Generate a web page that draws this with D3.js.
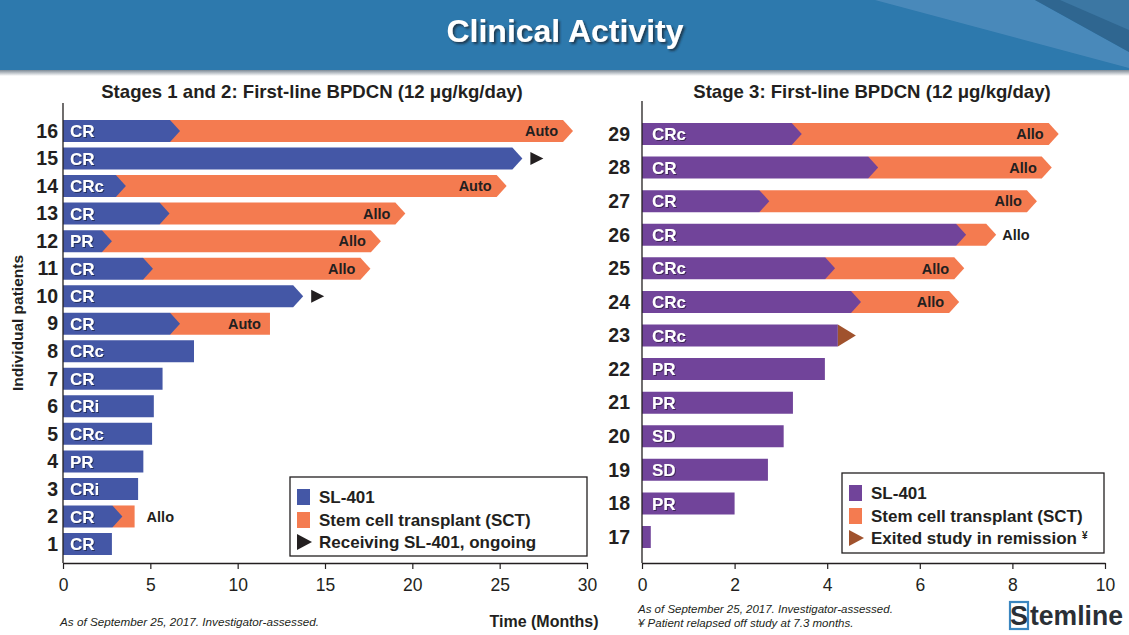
<!DOCTYPE html>
<html>
<head>
<meta charset="utf-8">
<script src="https://cdn.jsdelivr.net/npm/d3@7/dist/d3.min.js"></script>
<style>
  html, body { margin: 0; padding: 0; background: #fff; }
  svg { display: block; font-family: "Liberation Sans", Arial, Helvetica, sans-serif; }
</style>
</head>
<body>
<svg id="chart" width="1129" height="635"></svg>
<script>
// ---------------- DATA ----------------
const title = "Clinical Activity";
const leftTitle = "Stages 1 and 2: First-line BPDCN (12 \u03BCg/kg/day)";
const rightTitle = "Stage 3: First-line BPDCN (12 \u03BCg/kg/day)";

// Stages 1 and 2 (top to bottom)
const leftPatients = [16, 15, 14, 13, 12, 11, 10, 9, 8, 7, 6, 5, 4, 3, 2, 1];
const leftResponse = ["CR", "CR", "CRc", "CR", "PR", "CR", "CR", "CR", "CRc", "CR", "CRi", "CRc", "PR", "CRi", "CR", "CR"];
const leftSL401 = [6.7, 26.3, 3.6, 6.1, 2.8, 5.15, 13.75, 6.7, 7.5, 5.7, 5.2, 5.1, 4.6, 4.3, 3.4, 2.8];
const leftSCTEnd = [29.2, null, 25.4, 19.6, 18.2, 17.6, null, 11.85, null, null, null, null, null, null, 4.1, null];
const leftSCTType = ["Auto", null, "Auto", "Allo", "Allo", "Allo", null, "Auto", null, null, null, null, null, null, "Allo", null];
const leftSCTPointed = [true, false, true, true, true, true, false, false, false, false, false, false, false, false, false, false];
const leftOngoing = [false, true, false, false, false, false, true, false, false, false, false, false, false, false, false, false];
const leftTicks = [0, 5, 10, 15, 20, 25, 30];

// Stage 3 (top to bottom)
const rightPatients = [29, 28, 27, 26, 25, 24, 23, 22, 21, 20, 19, 18, 17];
const rightResponse = ["CRc", "CR", "CR", "CR", "CRc", "CRc", "CRc", "PR", "PR", "SD", "SD", "PR", ""];
const rightSL401 = [3.45, 5.1, 2.75, 7.0, 4.17, 4.73, 4.23, 3.95, 3.26, 3.06, 2.72, 2.0, 0.19];
const rightSCTEnd = [9.0, 8.85, 8.53, 7.65, 6.96, 6.85, null, null, null, null, null, null, null];
const rightSCTType = ["Allo", "Allo", "Allo", "Allo", "Allo", "Allo", null, null, null, null, null, null, null];
const rightSCTPointed = [true, true, true, true, true, true, false, false, false, false, false, false, false];
const rightExited = [false, false, false, false, false, false, true, false, false, false, false, false, false];
const rightTicks = [0, 2, 4, 6, 8, 10];

const leftLegend = ["SL-401", "Stem cell transplant (SCT)", "Receiving SL-401, ongoing"];
const rightLegend = ["SL-401", "Stem cell transplant (SCT)", "Exited study in remission"];
const leftNote = "As of September 25, 2017. Investigator-assessed.";
const rightNotes = ["As of September 25, 2017. Investigator-assessed.", "\u00A5 Patient relapsed off study at 7.3 months."];
const xTitle = "Time (Months)";
const yTitle = "Individual patients";

// ---------------- STYLE ----------------
const C = {
  header: "#2D79AD",
  blue: "#4457A6",
  orange: "#F47B50",
  purple: "#71449A",
  brown: "#A0522D",
  text: "#231F20",
  axis: "#231F20"
};
const BAR_H = 22, POINT = 10;

const svg = d3.select("#chart");

// defs
const defs = svg.append("defs");
const sg = defs.append("linearGradient").attr("id", "shadow").attr("x1", 0).attr("x2", 0).attr("y1", 0).attr("y2", 1);
sg.append("stop").attr("offset", "0%").attr("stop-color", "#7d8a96");
sg.append("stop").attr("offset", "100%").attr("stop-color", "#ffffff");
const ts = defs.append("filter").attr("id", "tshadow").attr("x", "-10%").attr("y", "-20%").attr("width", "130%").attr("height", "150%");
ts.append("feDropShadow").attr("dx", 1).attr("dy", 1).attr("stdDeviation", 0.6).attr("flood-color", "#000").attr("flood-opacity", 0.45);
const ts2 = defs.append("filter").attr("id", "tshadow2").attr("x", "-10%").attr("y", "-20%").attr("width", "130%").attr("height", "160%");
ts2.append("feDropShadow").attr("dx", 2).attr("dy", 2).attr("stdDeviation", 0.8).attr("flood-color", "#1a2a3a").attr("flood-opacity", 0.8);

// ---------------- HEADER ----------------
svg.append("rect").attr("x", 0).attr("y", 70).attr("width", 1129).attr("height", 6).attr("fill", "url(#shadow)");
svg.append("rect").attr("x", 0).attr("y", 0).attr("width", 1129).attr("height", 70).attr("fill", C.header);
svg.append("polygon").attr("points", "875,0 1035,0 1129,52 1129,68").attr("fill", "#4f8cbc").attr("opacity", 0.85);
svg.append("polygon").attr("points", "1035,0 1129,0 1129,52").attr("fill", "#2f6690");
svg.append("polygon").attr("points", "1060,0 1129,0 1129,30").attr("fill", "#3c77a3");
svg.append("text").attr("x", 565).attr("y", 42).attr("text-anchor", "middle")
  .attr("font-size", 32).attr("font-weight", "bold").attr("fill", "#fff")
  .attr("filter", "url(#tshadow2)").text(title);

// ---------------- PANEL FUNCTION ----------------
function chevron(x0, x1, yc, pointed) {
  const t = yc - BAR_H / 2, b = yc + BAR_H / 2;
  if (pointed) {
    const xb = Math.max(x0, x1 - POINT);
    return `M${x0},${t}L${xb},${t}L${x1},${yc}L${xb},${b}L${x0},${b}Z`;
  }
  return `M${x0},${t}L${x1},${t}L${x1},${b}L${x0},${b}Z`;
}

function panel(cfg) {
  const g = svg.append("g");
  const x = d3.scaleLinear().domain(cfg.domain).range(cfg.xRange);
  const y = d3.scalePoint().domain(cfg.patients).range(cfg.yRange);

  // subtitle
  g.append("text").attr("x", cfg.titleX).attr("y", 98).attr("text-anchor", "middle")
    .attr("font-size", 18.6).attr("font-weight", "bold").attr("fill", C.text).text(cfg.title);

  // bars
  cfg.patients.forEach((p, i) => {
    const yc = y(p);
    const sEnd = cfg.sl401[i];
    const sctEnd = cfg.sctEnd[i];
    const followed = sctEnd != null || (cfg.ongoing && cfg.ongoing[i]);
    if (sctEnd != null) {
      const start = x(sEnd) - POINT;
      g.append("path").attr("d", chevron(start, x(sctEnd), yc, cfg.sctPointed[i])).attr("fill", C.orange);
    }
    g.append("path").attr("d", chevron(x(0), x(sEnd), yc, followed)).attr("fill", cfg.color);

    if (cfg.ongoing && cfg.ongoing[i]) {
      const tx = x(sEnd) + 8;
      g.append("path").attr("d", `M${tx},${yc - 6.5}L${tx + 13},${yc}L${tx},${yc + 6.5}Z`).attr("fill", "#231F20");
    }
    if (cfg.exited && cfg.exited[i]) {
      const tx = x(sEnd);
      g.append("path").attr("d", `M${tx},${yc - BAR_H / 2}L${tx + 18},${yc}L${tx},${yc + BAR_H / 2}Z`).attr("fill", C.brown);
    }
    if (cfg.response[i]) {
      g.append("text").attr("x", x(0) + cfg.labelPad).attr("y", yc).attr("dy", "0.36em")
        .attr("font-size", 17).attr("font-weight", "bold").attr("fill", "#fff")
        .attr("filter", "url(#tshadow)").text(cfg.response[i]);
    }
    if (cfg.sctType[i]) {
      const segW = x(sctEnd) - (x(sEnd) - POINT);
      const inside = segW > 45;
      const endX = x(sctEnd);
      const tx = inside ? endX - (cfg.sctPointed[i] ? 15 : 9) : endX + (cfg.sctPointed[i] ? 6 : 12);
      g.append("text").attr("x", tx).attr("y", yc).attr("dy", "0.36em")
        .attr("text-anchor", inside ? "end" : "start")
        .attr("font-size", 14.5).attr("font-weight", "bold").attr("fill", C.text).text(cfg.sctType[i]);
    }
  });

  // y axis (row numbers)
  const ya = g.append("g").attr("transform", `translate(${x(0)},0)`)
    .call(d3.axisLeft(y).tickSize(0).tickPadding(cfg.numPad));
  ya.select(".domain").remove();
  ya.selectAll("text").attr("font-size", 19.5).attr("font-weight", "bold").attr("fill", C.text)
    .attr("font-family", "Liberation Sans, Arial, sans-serif");
  g.append("line").attr("x1", x(0)).attr("x2", x(0)).attr("y1", cfg.axisTop).attr("y2", 563)
    .attr("stroke", C.axis).attr("stroke-width", 1.3);

  // x axis
  const xa = g.append("g").attr("transform", "translate(0,563)")
    .call(d3.axisBottom(x).tickValues(cfg.ticks).tickSize(6).tickSizeOuter(0).tickPadding(10));
  xa.select(".domain").attr("stroke", C.axis).attr("stroke-width", 1.3);
  xa.selectAll(".tick line").attr("stroke", C.axis).attr("stroke-width", 1.2);
  xa.selectAll("text").attr("font-size", 17.5).attr("fill", C.text)
    .attr("font-family", "Liberation Sans, Arial, sans-serif");

  // legend
  const L = cfg.legend;
  g.append("rect").attr("x", L.x).attr("y", L.y).attr("width", L.w).attr("height", L.h)
    .attr("fill", "#fff").attr("stroke", "#231F20").attr("stroke-width", 1.3);
  const rows = [L.y + 20, L.y + 43, L.y + 65];
  g.append("rect").attr("x", L.x + 7).attr("y", rows[0] - 8).attr("width", 13).attr("height", 16).attr("fill", cfg.color);
  g.append("rect").attr("x", L.x + 7).attr("y", rows[1] - 8).attr("width", 13).attr("height", 16).attr("fill", C.orange);
  g.append("path").attr("d", `M${L.x + 7},${rows[2] - 8}L${L.x + 22},${rows[2]}L${L.x + 7},${rows[2] + 8}Z`)
    .attr("fill", cfg.markerColor);
  cfg.legendText.forEach((t, i) => {
    const tx = g.append("text").attr("x", L.x + 29).attr("y", rows[i]).attr("dy", "0.36em")
      .attr("font-size", 17).attr("font-weight", "bold").attr("fill", C.text).text(t);
    if (i === 2 && cfg.exited) {
      tx.append("tspan").attr("font-size", 10).attr("dx", 5).attr("dy", "-0.5em").text("\u00A5");
    }
  });
  return { x, y };
}

panel({
  domain: [0, 30], xRange: [63, 587], yRange: [131, 544],
  patients: leftPatients, response: leftResponse, sl401: leftSL401, sctEnd: leftSCTEnd,
  sctType: leftSCTType, sctPointed: leftSCTPointed, ongoing: leftOngoing,
  color: C.blue, markerColor: "#231F20", ticks: leftTicks,
  title: leftTitle, titleX: 312, labelPad: 7, numPad: 5, axisTop: 103,
  legend: { x: 290, y: 477, w: 297, h: 79 }, legendText: leftLegend
});

panel({
  domain: [0, 10], xRange: [642, 1105], yRange: [134, 537],
  patients: rightPatients, response: rightResponse, sl401: rightSL401, sctEnd: rightSCTEnd,
  sctType: rightSCTType, sctPointed: rightSCTPointed, exited: rightExited,
  color: C.purple, markerColor: C.brown, ticks: rightTicks,
  title: rightTitle, titleX: 872, labelPad: 10, numPad: 12, axisTop: 101,
  legend: { x: 842, y: 473, w: 262, h: 80 }, legendText: rightLegend
});

// axis titles & notes
svg.append("text").attr("transform", "translate(23,323) rotate(-90)").attr("text-anchor", "middle")
  .attr("font-size", 15.5).attr("font-weight", "bold").attr("fill", C.text).text(yTitle);
svg.append("text").attr("x", 544).attr("y", 627).attr("text-anchor", "middle")
  .attr("font-size", 16).attr("font-weight", "bold").attr("fill", C.text).text(xTitle);
svg.append("text").attr("x", 60).attr("y", 626).attr("font-size", 11.7).attr("font-style", "italic")
  .attr("fill", C.text).text(leftNote);
rightNotes.forEach((t, i) => {
  svg.append("text").attr("x", 638).attr("y", 613 + i * 14).attr("font-size", 11.5).attr("font-style", "italic")
    .attr("fill", C.text).text(t);
});

// logo
const logo = svg.append("g");
logo.append("rect").attr("x", 1010).attr("y", 602).attr("width", 18).attr("height", 27)
  .attr("fill", "#fff").attr("stroke", "#3A86C0").attr("stroke-width", 2.2);
logo.append("text").attr("x", 1019).attr("y", 625).attr("text-anchor", "middle")
  .attr("font-family", "Liberation Sans Narrow, Arial Narrow, sans-serif").attr("font-weight", "bold")
  .attr("font-size", 27).attr("fill", "#2a2f36").text("S");
logo.append("text").attr("x", 1030).attr("y", 625)
  .attr("font-family", "Liberation Sans Narrow, Arial Narrow, sans-serif").attr("font-weight", "bold")
  .attr("font-size", 27).attr("fill", "#2a2f36").attr("textLength", 93).attr("lengthAdjust", "spacingAndGlyphs").text("temline");
</script>
</body>
</html>
